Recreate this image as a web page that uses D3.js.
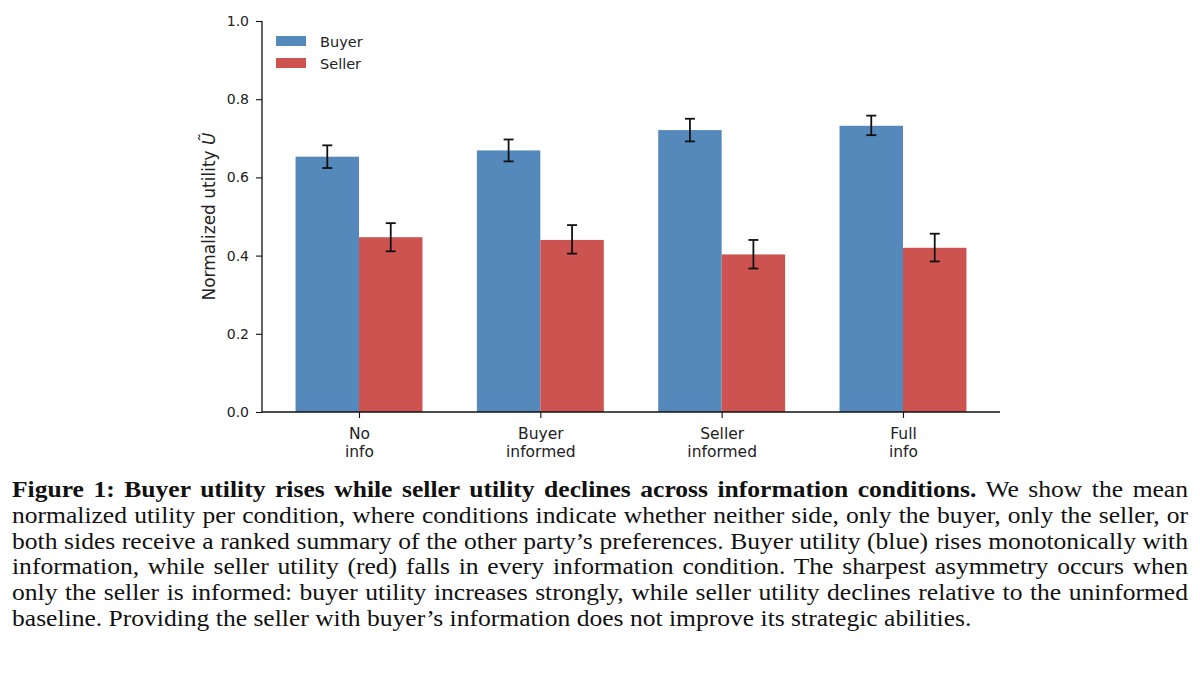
<!DOCTYPE html>
<html><head><meta charset="utf-8">
<script src="https://cdn.jsdelivr.net/npm/d3@7"></script>
<style>body{margin:0;background:#fff}svg{display:block}</style>
</head><body>
<svg id="c" width="1200" height="675"></svg>
<script>
const categories = [["No","info"],["Buyer","informed"],["Seller","informed"],["Full","info"]];
const seriesNames = ["Buyer","Seller"];
const buyerMean = [0.653, 0.669, 0.721, 0.732];
const buyerLo   = [0.624, 0.641, 0.692, 0.708];
const buyerHi   = [0.682, 0.697, 0.750, 0.758];
const sellerMean = [0.447, 0.440, 0.403, 0.420];
const sellerLo   = [0.411, 0.405, 0.367, 0.385];
const sellerHi   = [0.483, 0.478, 0.440, 0.456];
const yTicks = [0.0, 0.2, 0.4, 0.6, 0.8, 1.0];
const colors = ["#5689bb", "#cc5350"];
const captionLines = [
  [["b","Figure 1: Buyer utility rises while seller utility declines across information conditions."],["r"," We show the mean"]],
  [["r","normalized utility per condition, where conditions indicate whether neither side, only the buyer, only the seller, or"]],
  [["r","both sides receive a ranked summary of the other party\u2019s preferences. Buyer utility (blue) rises monotonically with"]],
  [["r","information, while seller utility (red) falls in every information condition. The sharpest asymmetry occurs when"]],
  [["r","only the seller is informed: buyer utility increases strongly, while seller utility declines relative to the uninformed"]],
  [["r","baseline. Providing the seller with buyer\u2019s information does not improve its strategic abilities."]]
];

(function(){
const svg = d3.select("#c");
const axisFont = "'DejaVu Sans', sans-serif";
const pL = 262, pR = 1000, pT = 21, pB = 412;
const barW = 0.35;
const x = d3.scaleLinear().domain([-0.535, 3.535]).range([pL, pR]);
const y = d3.scaleLinear().domain([0, 1]).range([pB, pT]);

const series = [
  {name: seriesNames[0], mean: buyerMean, lo: buyerLo, hi: buyerHi, off: -barW/2, color: colors[0]},
  {name: seriesNames[1], mean: sellerMean, lo: sellerLo, hi: sellerHi, off: barW/2, color: colors[1]}
];

const g = svg.append("g");
series.forEach(s => {
  g.selectAll(null).data(s.mean).enter().append("rect")
    .attr("x", (d,i) => x(i + s.off - barW/2))
    .attr("width", x(barW) - x(0))
    .attr("y", d => y(d))
    .attr("height", d => y(0) - y(d))
    .attr("fill", s.color);
});
series.forEach(s => {
  s.mean.forEach((d,i) => {
    const cx = x(i + s.off);
    const eg = g.append("g").attr("stroke", "#111").attr("stroke-width", 1.8);
    eg.append("line").attr("x1", cx).attr("x2", cx).attr("y1", y(s.lo[i])).attr("y2", y(s.hi[i]));
    eg.append("line").attr("x1", cx-5).attr("x2", cx+5).attr("y1", y(s.lo[i])).attr("y2", y(s.lo[i]));
    eg.append("line").attr("x1", cx-5).attr("x2", cx+5).attr("y1", y(s.hi[i])).attr("y2", y(s.hi[i]));
  });
});

const ya = svg.append("g").attr("transform", `translate(${pL},0)`)
  .call(d3.axisLeft(y).tickValues(yTicks).tickFormat(d3.format(".1f")).tickSize(6).tickPadding(7));
ya.select(".domain").attr("d", `M0,${y(1)}V${y(0)}`);
const xa = svg.append("g").attr("transform", `translate(0,${pB})`)
  .call(d3.axisBottom(x).tickValues([0,1,2,3]).tickFormat("").tickSize(6));
xa.select(".domain").attr("d", `M${pL},0H${pR}`);
[ya, xa].forEach(a => {
  a.select(".domain").attr("stroke", "#111").attr("stroke-width", 1.3);
  a.selectAll(".tick line").attr("stroke", "#111").attr("stroke-width", 1.1);
  a.selectAll("text").attr("font-family", axisFont).attr("font-size", 14).attr("fill", "#222");
});
xa.selectAll(".tick").each(function(d) {
  const t = d3.select(this).append("text").attr("text-anchor", "middle")
    .attr("font-family", axisFont).attr("font-size", 15.5).attr("fill", "#222");
  categories[d].forEach((line, k) => {
    t.append("tspan").attr("x", 0).attr("y", 27 + k*17.5).text(line);
  });
});

const yl = svg.append("text")
  .attr("transform", `translate(215,${(pT+pB)/2}) rotate(-90)`)
  .attr("text-anchor", "middle").attr("font-family", axisFont).attr("font-size", 17).attr("fill", "#222");
yl.append("tspan").text("Normalized utility ");
yl.append("tspan").attr("font-style", "italic").text("\u0168");

const lg = svg.append("g").attr("transform", "translate(276,36)");
series.forEach((s, i) => {
  lg.append("rect").attr("x", 0).attr("y", i*22).attr("width", 30).attr("height", 10).attr("fill", s.color);
  lg.append("text").attr("x", 44).attr("y", i*22 + 10.5).attr("font-family", axisFont).attr("font-size", 14.5)
    .attr("fill", "#222").text(s.name);
});

const capLeft = 12, capRight = 1188, lastEnd = 972, base0 = 497, lh = 25.8;
const cap = svg.append("g");
const texts = captionLines.map((parts, li) => {
  const t = cap.append("text").attr("x", 0).attr("y", base0 + li*lh)
    .attr("font-family", "'Liberation Serif', 'Times New Roman', serif").attr("font-size", 23.5).attr("fill", "#111")
    .attr("xml:space", "preserve");
  parts.forEach(p => {
    t.append("tspan").attr("font-weight", p[0] === "b" ? "bold" : "normal").text(p[1]);
  });
  return t;
});
const lastW = texts[texts.length-1].node().getComputedTextLength();
const sx = (lastEnd - capLeft) / lastW;
cap.attr("transform", `translate(${capLeft},0) scale(${sx},1)`);
const targetW = (capRight - capLeft) / sx;
texts.forEach((t, li) => {
  if (li < texts.length - 1) {
    const full = captionLines[li].map(p => p[1]).join("");
    const nSpaces = (full.match(/ /g) || []).length;
    const w = t.node().getComputedTextLength();
    t.attr("word-spacing", (targetW - w) / nSpaces);
  }
});
})();
</script>
</body></html>
